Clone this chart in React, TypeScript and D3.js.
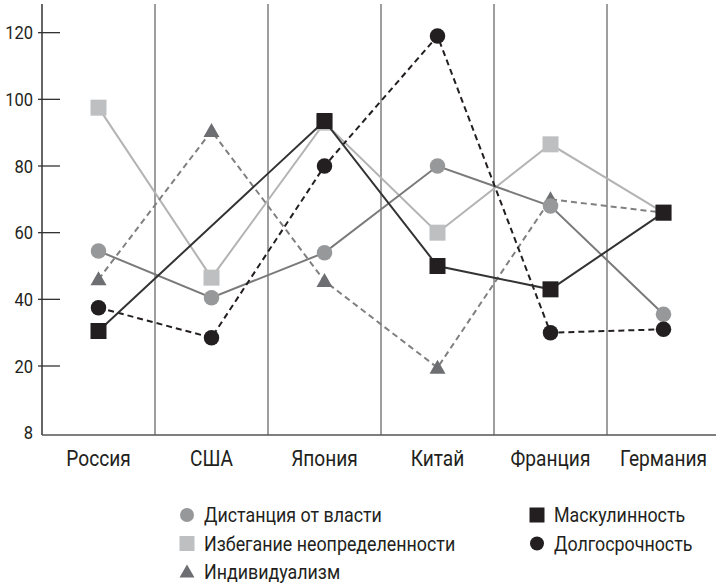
import * as d3 from "d3";

// страны и значения показателей Хофстеде (по картинке)
const countries = ["Россия", "США", "Япония", "Китай", "Франция", "Германия"];
const powerDistance = [54.5, 40.5, 54, 80, 68, 35.5];
const uncertainty = [97.5, 46.5, 93, 60, 86.5, 66];
const individualism = [46, 90.5, 45.5, 19.5, 70, 66];
const masculinity = [30.5, null, 93.5, 50, 43, 66];
const longTerm = [37.5, 28.5, 80, 119, 30, 31];

const yTicks = [0, 20, 40, 60, 80, 100, 120];
const yTickLabels = ["8", "20", "40", "60", "80", "100", "120"];

const FONT = "Roboto, 'Liberation Sans', sans-serif";
const SQUEEZE = 0.87; // узкий шрифт как в оригинале
const INK = "#231f20";

const series = [
  { key: "uai", label: "Избегание неопределенности", values: uncertainty, line: "#b3b3b3", fill: "#bebfc1", shape: "square", dash: null },
  { key: "idv", label: "Индивидуализм", values: individualism, line: "#808080", fill: "#6d6e71", shape: "triangle", dash: "6,4" },
  { key: "pdi", label: "Дистанция от власти", values: powerDistance, line: "#7a7a7a", fill: "#97989a", shape: "circle", dash: null },
  { key: "lto", label: "Долгосрочность", values: longTerm, line: INK, fill: INK, shape: "circle", dash: "6,4" },
  { key: "mas", label: "Маскулинность", values: masculinity, line: "#333333", fill: INK, shape: "square", dash: null },
];

// порядок в легенде
const legendOrder = [
  { key: "pdi", col: 0, row: 0 },
  { key: "uai", col: 0, row: 1 },
  { key: "idv", col: 0, row: 2 },
  { key: "mas", col: 1, row: 0 },
  { key: "lto", col: 1, row: 1 },
];

const width = 716;
const height = 585;
const axisX = 42;
const top = 4;

const Label = ({ x, y, size, anchor = "start", children }) => (
  <text
    transform={`translate(${x},${y}) scale(${SQUEEZE},1)`}
    textAnchor={anchor}
    fontSize={size}
    fill={INK}
  >
    {children}
  </text>
);

const Marker = ({ shape, x, y, fill, size = 16 }) => {
  if (shape === "circle") return <circle cx={x} cy={y} r={size / 2} fill={fill} />;
  if (shape === "square")
    return <rect x={x - size / 2} y={y - size / 2} width={size} height={size} fill={fill} />;
  const h = size * 0.88;
  return (
    <path
      d={`M${x},${y - h / 2 - 1}L${x + size / 2},${y + h / 2 - 1}L${x - size / 2},${y + h / 2 - 1}Z`}
      fill={fill}
    />
  );
};

export default function App() {
  const x = d3.scaleBand().domain(countries).range([axisX, 720]).padding(0);
  const y = d3.scaleLinear().domain([-0.7, 128.6]).range([435, top]);
  const cx = (c) => x(c) + x.bandwidth() / 2;
  const bottom = y(-0.7);

  const line = d3
    .line()
    .x((d) => d[0])
    .y((d) => d[1]);

  return (
    <svg
      width={width}
      height={height}
      style={{ position: "absolute", left: 0, top: 0, background: "#fff" }}
      fontFamily={FONT}
    >
      {/* вертикальные разделители */}
      {countries.slice(1).map((c) => (
        <line key={c} x1={x(c)} x2={x(c)} y1={top} y2={bottom} stroke="#6a6a6a" strokeWidth={1.3} />
      ))}

      {/* ось Y */}
      <line x1={axisX} x2={axisX} y1={top} y2={bottom} stroke="#333" strokeWidth={1.5} />
      {yTicks.map((t, i) => (
        <g key={t}>
          {t > 0 && (
            <line x1={axisX - 4} x2={axisX + 18} y1={y(t)} y2={y(t)} stroke="#333" strokeWidth={1.3} />
          )}
          <Label x={axisX - 9} y={y(t) + 6.8} size={19} anchor="end">
            {yTickLabels[i]}
          </Label>
        </g>
      ))}

      {/* ось X */}
      <line x1={axisX} x2={width} y1={bottom} y2={bottom} stroke="#555" strokeWidth={1.6} />
      {countries.map((c) => (
        <Label key={c} x={cx(c)} y={466} size={22} anchor="middle">
          {c}
        </Label>
      ))}

      {/* линии */}
      {series.map((s) => {
        const pts = countries
          .map((c, i) => [cx(c), s.values[i]])
          .filter((d) => d[1] != null)
          .map((d) => [d[0], y(d[1])]);
        return (
          <g key={s.key}>
            <path
              d={line(pts)}
              fill="none"
              stroke={s.line}
              strokeWidth={2}
              strokeDasharray={s.dash || undefined}
            />
            {pts.map((p, i) => (
              <Marker key={i} shape={s.shape} x={p[0]} y={p[1]} fill={s.fill} size={s.shape === "circle" ? 15.5 : 16} />
            ))}
          </g>
        );
      })}

      {/* легенда */}
      {legendOrder.map((l) => {
        const s = series.find((d) => d.key === l.key);
        const mx = l.col === 0 ? 187 : 537;
        const my = 515 + l.row * 28.5;
        return (
          <g key={l.key}>
            <Marker shape={s.shape} x={mx} y={my} fill={s.fill} size={s.shape === "circle" ? 14 : 15} />
            <Label x={mx + 17} y={my + 7} size={20.5}>
              {s.label}
            </Label>
          </g>
        );
      })}
    </svg>
  );
}
